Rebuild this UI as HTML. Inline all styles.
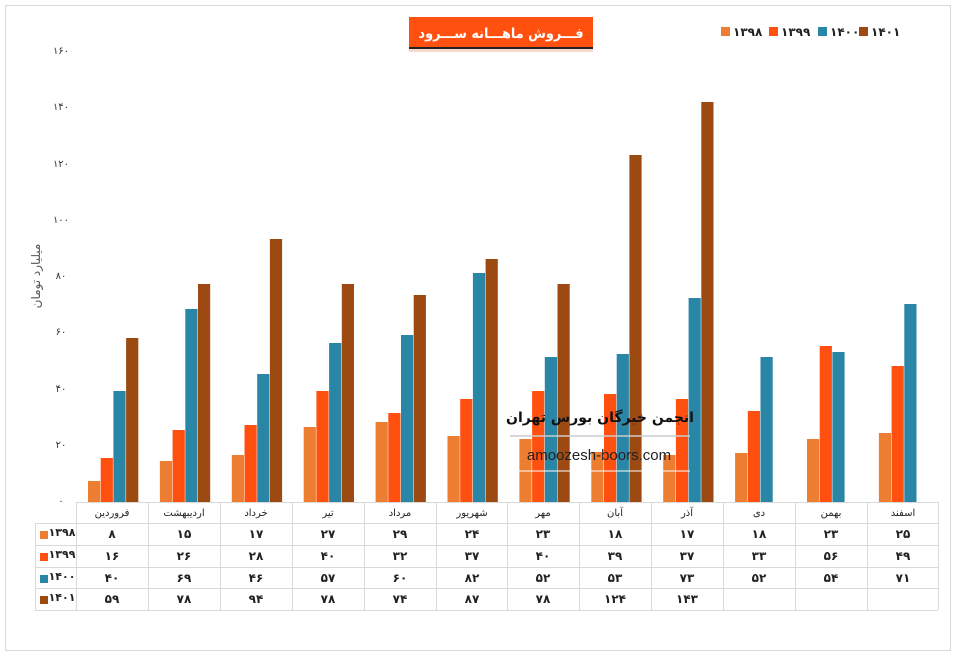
<!DOCTYPE html>
<html><head><meta charset="utf-8"><style>
body{margin:0;background:#fff;}
svg{display:block;font-family:"Liberation Sans","DejaVu Sans",sans-serif;}
</style></head><body>
<svg width="957" height="657" xmlns="http://www.w3.org/2000/svg">
<rect x="0" y="0" width="957" height="657" fill="#fff"/>
<rect x="5.5" y="5.5" width="945" height="645" fill="none" stroke="#d9d9d9"/>
<rect x="409" y="17" width="184" height="30" fill="#FF5010"/>
<rect x="409" y="47" width="184" height="2" fill="#222"/>
<rect x="409" y="49" width="184" height="3" fill="#f7d8cc"/>
<text x="501" y="38" font-size="14" font-weight="bold" fill="#fff" text-anchor="middle" textLength="165" lengthAdjust="spacingAndGlyphs" font-family="'DejaVu Sans',sans-serif">فـــروش ماهـــانه ســـرود</text>
<g font-size="12" font-weight="bold" fill="#222" font-family="'DejaVu Sans',sans-serif">
<rect x="721" y="27" width="9" height="9" fill="#ED7D31"/><text x="733" y="36">۱۳۹۸</text>
<rect x="769" y="27" width="9" height="9" fill="#FF5010"/><text x="781" y="36">۱۳۹۹</text>
<rect x="818" y="27" width="9" height="9" fill="#2986A6"/><text x="830" y="36">۱۴۰۰</text>
<rect x="859" y="27" width="9" height="9" fill="#9C4A12"/><text x="871" y="36">۱۴۰۱</text>
</g>
<g font-size="10" fill="#333" text-anchor="middle" font-family="'DejaVu Sans',sans-serif">
<text x="61" y="504">۰</text><text x="61" y="448">۲۰</text><text x="61" y="392">۴۰</text>
<text x="61" y="335">۶۰</text><text x="61" y="279">۸۰</text><text x="61" y="223">۱۰۰</text>
<text x="61" y="167">۱۲۰</text><text x="61" y="110">۱۴۰</text><text x="61" y="54">۱۶۰</text>
</g>
<text transform="translate(40,276) rotate(-90)" font-size="12" fill="#555" text-anchor="middle" font-family="'DejaVu Sans',sans-serif">میلیارد تومان</text>

<g>
<g transform="translate(76,0)"><rect x="12" y="481" width="12.2" height="21" fill="#ED7D31"/><rect x="24.7" y="458" width="12.2" height="44" fill="#FF5010"/><rect x="37.4" y="391" width="12.2" height="111" fill="#2986A6"/><rect x="50.1" y="338" width="12.2" height="164" fill="#9C4A12"/></g>
<g transform="translate(147.9,0)"><rect x="12" y="461" width="12.2" height="41" fill="#ED7D31"/><rect x="24.7" y="430" width="12.2" height="72" fill="#FF5010"/><rect x="37.4" y="309" width="12.2" height="193" fill="#2986A6"/><rect x="50.1" y="284" width="12.2" height="218" fill="#9C4A12"/></g>
<g transform="translate(219.8,0)"><rect x="12" y="455" width="12.2" height="47" fill="#ED7D31"/><rect x="24.7" y="425" width="12.2" height="77" fill="#FF5010"/><rect x="37.4" y="374" width="12.2" height="128" fill="#2986A6"/><rect x="50.1" y="239" width="12.2" height="263" fill="#9C4A12"/></g>
<g transform="translate(291.7,0)"><rect x="12" y="427" width="12.2" height="75" fill="#ED7D31"/><rect x="24.7" y="391" width="12.2" height="111" fill="#FF5010"/><rect x="37.4" y="343" width="12.2" height="159" fill="#2986A6"/><rect x="50.1" y="284" width="12.2" height="218" fill="#9C4A12"/></g>
<g transform="translate(363.6,0)"><rect x="12" y="422" width="12.2" height="80" fill="#ED7D31"/><rect x="24.7" y="413" width="12.2" height="89" fill="#FF5010"/><rect x="37.4" y="335" width="12.2" height="167" fill="#2986A6"/><rect x="50.1" y="295" width="12.2" height="207" fill="#9C4A12"/></g>
<g transform="translate(435.5,0)"><rect x="12" y="436" width="12.2" height="66" fill="#ED7D31"/><rect x="24.7" y="399" width="12.2" height="103" fill="#FF5010"/><rect x="37.4" y="273" width="12.2" height="229" fill="#2986A6"/><rect x="50.1" y="259" width="12.2" height="243" fill="#9C4A12"/></g>
<g transform="translate(507.4,0)"><rect x="12" y="439" width="12.2" height="63" fill="#ED7D31"/><rect x="24.7" y="391" width="12.2" height="111" fill="#FF5010"/><rect x="37.4" y="357" width="12.2" height="145" fill="#2986A6"/><rect x="50.1" y="284" width="12.2" height="218" fill="#9C4A12"/></g>
<g transform="translate(579.3,0)"><rect x="12" y="452" width="12.2" height="50" fill="#ED7D31"/><rect x="24.7" y="394" width="12.2" height="108" fill="#FF5010"/><rect x="37.4" y="354" width="12.2" height="148" fill="#2986A6"/><rect x="50.1" y="155" width="12.2" height="347" fill="#9C4A12"/></g>
<g transform="translate(651.2,0)"><rect x="12" y="455" width="12.2" height="47" fill="#ED7D31"/><rect x="24.7" y="399" width="12.2" height="103" fill="#FF5010"/><rect x="37.4" y="298" width="12.2" height="204" fill="#2986A6"/><rect x="50.1" y="102" width="12.2" height="400" fill="#9C4A12"/></g>
<g transform="translate(723.1,0)"><rect x="12" y="453" width="12.2" height="49" fill="#ED7D31"/><rect x="24.7" y="411" width="12.2" height="91" fill="#FF5010"/><rect x="37.4" y="357" width="12.2" height="145" fill="#2986A6"/></g>
<g transform="translate(795,0)"><rect x="12" y="439" width="12.2" height="63" fill="#ED7D31"/><rect x="24.7" y="346" width="12.2" height="156" fill="#FF5010"/><rect x="37.4" y="352" width="12.2" height="150" fill="#2986A6"/></g>
<g transform="translate(866.9,0)"><rect x="12" y="433" width="12.2" height="69" fill="#ED7D31"/><rect x="24.7" y="366" width="12.2" height="136" fill="#FF5010"/><rect x="37.4" y="304" width="12.2" height="198" fill="#2986A6"/></g>
</g>

<text x="600" y="422" font-size="14" font-weight="bold" fill="#111" text-anchor="middle" font-family="'DejaVu Sans',sans-serif">انجمن خبرگان بورس تهران</text>
<line x1="510" y1="436" x2="690" y2="436" stroke="#ccc" stroke-width="1.5"/>
<text x="599" y="460" font-size="15" fill="#222" text-anchor="middle">amoozesh-boors.com</text>
<line x1="518" y1="471" x2="690" y2="471" stroke="#fff" stroke-width="1"/>

<g stroke="#d9d9d9" fill="none">
<line x1="76" y1="502.5" x2="938" y2="502.5"/>
<line x1="35" y1="523.5" x2="938" y2="523.5"/>
<line x1="35" y1="545.5" x2="938" y2="545.5"/>
<line x1="35" y1="567.5" x2="938" y2="567.5"/>
<line x1="35" y1="588.5" x2="938" y2="588.5"/>
<line x1="35" y1="610.5" x2="938" y2="610.5"/>
<line x1="35.5" y1="523" x2="35.5" y2="610"/>
<line x1="76.5" y1="502" x2="76.5" y2="610"/>
<line x1="148.5" y1="502" x2="148.5" y2="610"/>
<line x1="220.5" y1="502" x2="220.5" y2="610"/>
<line x1="292.5" y1="502" x2="292.5" y2="610"/>
<line x1="364.5" y1="502" x2="364.5" y2="610"/>
<line x1="436.5" y1="502" x2="436.5" y2="610"/>
<line x1="507.5" y1="502" x2="507.5" y2="610"/>
<line x1="579.5" y1="502" x2="579.5" y2="610"/>
<line x1="651.5" y1="502" x2="651.5" y2="610"/>
<line x1="723.5" y1="502" x2="723.5" y2="610"/>
<line x1="795.5" y1="502" x2="795.5" y2="610"/>
<line x1="867.5" y1="502" x2="867.5" y2="610"/>
<line x1="938.5" y1="502" x2="938.5" y2="610"/>
</g>
<g font-size="12" font-weight="bold" fill="#222" text-anchor="middle" font-family="'DejaVu Sans',sans-serif">
<g transform="translate(112,0)"><text y="516" font-size="10" font-weight="normal">فروردین</text><text y="538">۸</text><text y="560">۱۶</text><text y="582">۴۰</text><text y="603">۵۹</text></g>
<g transform="translate(184,0)"><text y="516" font-size="10" font-weight="normal">اردیبهشت</text><text y="538">۱۵</text><text y="560">۲۶</text><text y="582">۶۹</text><text y="603">۷۸</text></g>
<g transform="translate(256,0)"><text y="516" font-size="10" font-weight="normal">خرداد</text><text y="538">۱۷</text><text y="560">۲۸</text><text y="582">۴۶</text><text y="603">۹۴</text></g>
<g transform="translate(328,0)"><text y="516" font-size="10" font-weight="normal">تیر</text><text y="538">۲۷</text><text y="560">۴۰</text><text y="582">۵۷</text><text y="603">۷۸</text></g>
<g transform="translate(400,0)"><text y="516" font-size="10" font-weight="normal">مرداد</text><text y="538">۲۹</text><text y="560">۳۲</text><text y="582">۶۰</text><text y="603">۷۴</text></g>
<g transform="translate(472,0)"><text y="516" font-size="10" font-weight="normal">شهریور</text><text y="538">۲۴</text><text y="560">۳۷</text><text y="582">۸۲</text><text y="603">۸۷</text></g>
<g transform="translate(543,0)"><text y="516" font-size="10" font-weight="normal">مهر</text><text y="538">۲۳</text><text y="560">۴۰</text><text y="582">۵۲</text><text y="603">۷۸</text></g>
<g transform="translate(615,0)"><text y="516" font-size="10" font-weight="normal">آبان</text><text y="538">۱۸</text><text y="560">۳۹</text><text y="582">۵۳</text><text y="603">۱۲۴</text></g>
<g transform="translate(687,0)"><text y="516" font-size="10" font-weight="normal">آذر</text><text y="538">۱۷</text><text y="560">۳۷</text><text y="582">۷۳</text><text y="603">۱۴۳</text></g>
<g transform="translate(759,0)"><text y="516" font-size="10" font-weight="normal">دی</text><text y="538">۱۸</text><text y="560">۳۳</text><text y="582">۵۲</text></g>
<g transform="translate(831,0)"><text y="516" font-size="10" font-weight="normal">بهمن</text><text y="538">۲۳</text><text y="560">۵۶</text><text y="582">۵۴</text></g>
<g transform="translate(903,0)"><text y="516" font-size="10" font-weight="normal">اسفند</text><text y="538">۲۵</text><text y="560">۴۹</text><text y="582">۷۱</text></g>
</g>
<g font-size="11" font-weight="bold" fill="#222" text-anchor="middle" font-family="'DejaVu Sans',sans-serif">
<rect x="40" y="531" width="8" height="8" fill="#ED7D31"/><text x="62" y="536">۱۳۹۸</text>
<rect x="40" y="553" width="8" height="8" fill="#FF5010"/><text x="62" y="558">۱۳۹۹</text>
<rect x="40" y="575" width="8" height="8" fill="#2986A6"/><text x="62" y="580">۱۴۰۰</text>
<rect x="40" y="596" width="8" height="8" fill="#9C4A12"/><text x="62" y="601">۱۴۰۱</text>
</g>
</svg>
</body></html>
